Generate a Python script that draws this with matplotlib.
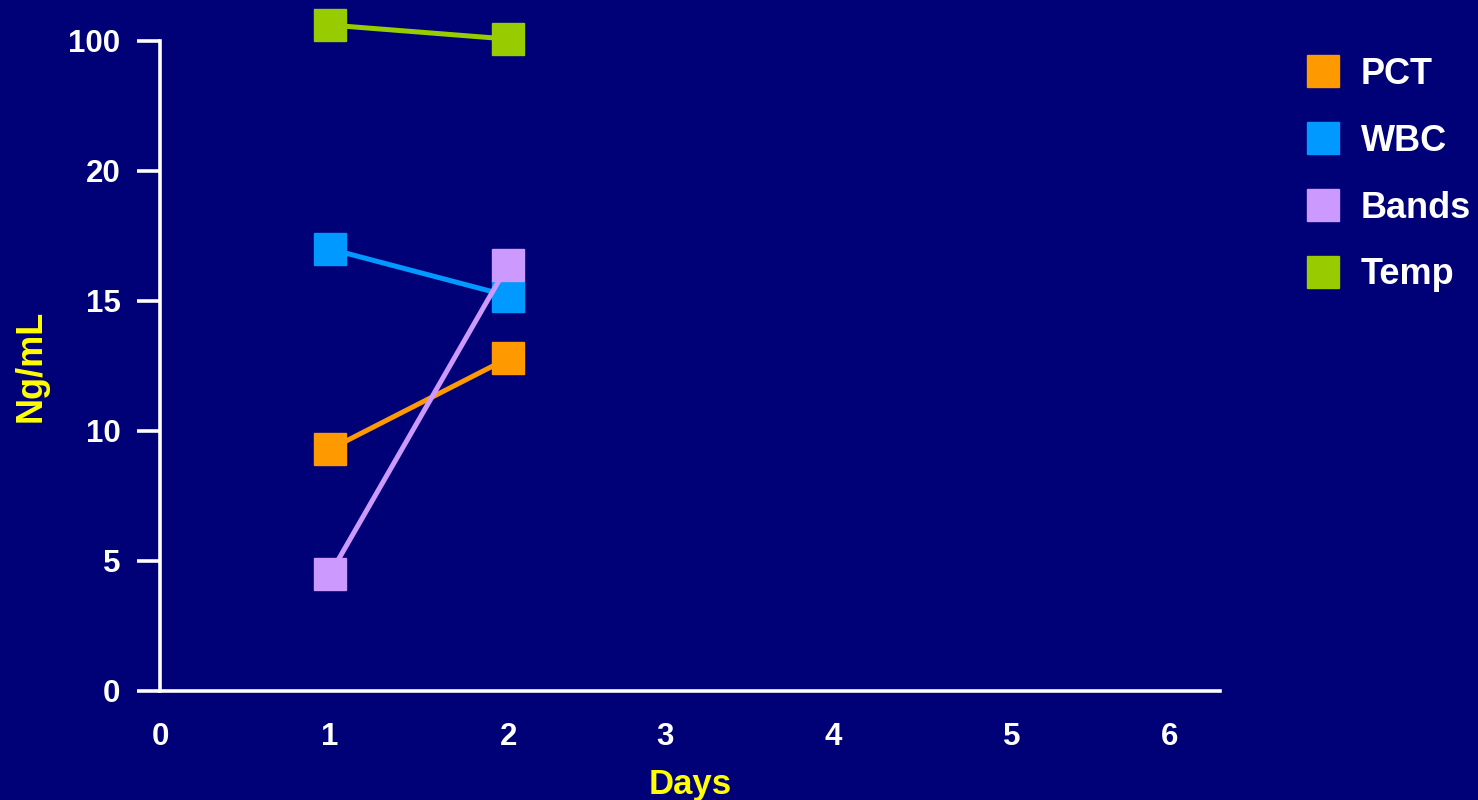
import numpy as np
import matplotlib
matplotlib.use("Agg")
import matplotlib.pyplot as plt
from matplotlib.lines import Line2D

# ---- data ----
days = [1, 2]
pct = [9.3, 12.8]
wbc = [17.0, 15.2]
bands = [4.5, 16.4]
temp = [109.8, 101.2]

series_names = ["PCT", "WBC", "Bands", "Temp"]
series_colors = ["#FF9900", "#0099FF", "#CC99FF", "#99CC00"]

x_ticks = [0, 1, 2, 3, 4, 5, 6]
y_ticks = [0, 5, 10, 15, 20, 100]

BG = "#000077"
WHITE = "#FFFFFF"
YELLOW = "#FFFF00"
FONT = "Liberation Sans"

# ---- scales ----
# y: linear up to 20, then the 20-100 range is compressed into one step
def y_fwd(v):
    v = np.asarray(v, dtype=float)
    return np.where(v <= 20, v, 20 + (v - 20) / 16.0)

def y_inv(p):
    p = np.asarray(p, dtype=float)
    return np.where(p <= 20, p, 20 + (p - 20) * 16.0)

# x: day positions along the axis
x_knots = [-1, 0, 1, 2, 3, 4, 5, 6, 7]
x_pos = [0, 160, 330, 508, 665, 833, 1011, 1169, 1327]

def x_fwd(x):
    return np.interp(np.asarray(x, dtype=float), x_knots, x_pos)

def x_inv(p):
    return np.interp(np.asarray(p, dtype=float), x_pos, x_knots)

fig = plt.figure(figsize=(14.78, 8.0), dpi=100, facecolor=BG)
ax = fig.add_axes([160 / 1478, 109 / 800, 1060 / 1478, 650 / 800], facecolor=BG)

ax.set_xscale("function", functions=(x_fwd, x_inv))
ax.set_yscale("function", functions=(y_fwd, y_inv))

for vals, name, col in zip([pct, wbc, bands, temp], series_names, series_colors):
    ax.plot(days, vals, color=col, lw=3.6, marker="s", ms=23, mec=col,
            mfc=col, label=name, clip_on=False, solid_capstyle="butt")

ax.set_xlim(0, 6.32)
ax.set_ylim(0, 100)

ax.set_xticks(x_ticks)
ax.set_xticklabels([str(t) for t in x_ticks])
ax.set_yticks(y_ticks)
ax.set_yticklabels([str(t) for t in y_ticks])
ax.xaxis.set_minor_locator(matplotlib.ticker.NullLocator())
ax.yaxis.set_minor_locator(matplotlib.ticker.NullLocator())

for side in ["top", "right"]:
    ax.spines[side].set_visible(False)
for side in ["left", "bottom"]:
    ax.spines[side].set_color(WHITE)
    ax.spines[side].set_linewidth(2.6)

ax.tick_params(axis="y", direction="out", length=16.5, width=2.6,
               color=WHITE, labelcolor=WHITE, pad=12)
ax.tick_params(axis="x", length=0, labelcolor=WHITE, pad=22)
for lbl in ax.get_xticklabels() + ax.get_yticklabels():
    lbl.set_fontfamily(FONT)
    lbl.set_fontweight("bold")
    lbl.set_fontsize(22.5)

ax.set_xlabel("Days", color=YELLOW, fontsize=25, fontweight="bold",
              fontfamily=FONT, labelpad=12)
ax.set_ylabel("Ng/mL", color=YELLOW, fontsize=26, fontweight="bold",
              fontfamily=FONT, labelpad=14)

handles = [Line2D([], [], ls="none", marker="s", ms=23, color=c, mec=c)
           for c in series_colors]
leg = fig.legend(handles, series_names, loc="upper left",
                 bbox_to_anchor=(1305 / 1478, 1 - 57 / 800),
                 frameon=False, handlelength=1.0, handletextpad=0.55,
                 labelspacing=0.88, borderpad=0, borderaxespad=0,
                 prop={"family": FONT, "weight": "bold", "size": 26})
for t in leg.get_texts():
    t.set_color(WHITE)

fig.savefig("out.png", dpi=100, facecolor=BG)
